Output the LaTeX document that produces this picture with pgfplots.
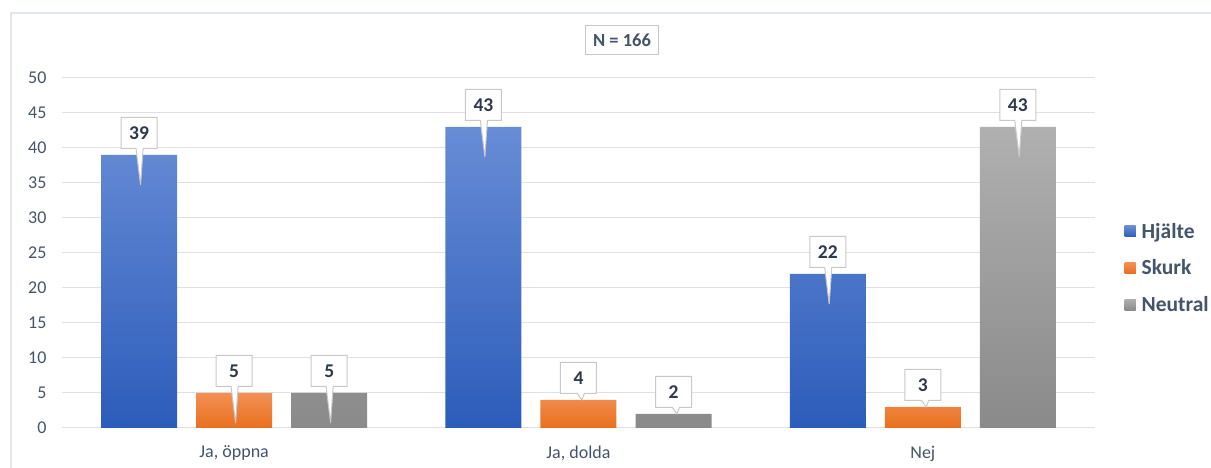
\documentclass[border=0pt]{standalone}
\usepackage{fontspec}
\setmainfont{Carlito}
\usepackage{pgfplots}
\pgfplotsset{compat=1.18}
\usetikzlibrary{shapes.callouts}
\definecolor{txt}{HTML}{44546A}
\definecolor{numc}{HTML}{2E3A4B}
\definecolor{gridc}{HTML}{DDE1E6}
\definecolor{bordc}{HTML}{E3E6EC}
\definecolor{callc}{HTML}{C8C8C8}
\definecolor{bluetop}{RGB}{104,140,214}
\definecolor{bluebot}{RGB}{44,92,186}
\definecolor{orgtop}{RGB}{243,144,84}
\definecolor{orgbot}{RGB}{232,112,30}
\definecolor{graytop}{RGB}{176,176,176}
\definecolor{graybot}{RGB}{138,138,138}
\definecolor{blueleg}{HTML}{4472C4}
\definecolor{orgleg}{HTML}{ED7D31}
\definecolor{grayleg}{HTML}{A5A5A5}
\begin{document}
\begin{tikzpicture}[x=1bp,y=1bp]
\useasboundingbox (0,0) rectangle (1211,468);
\draw[color=bordc, line width=1.5bp] (11,-10) -- (11,455) -- (1230,455);
\begin{axis}[
  at={(62bp,40bp)}, anchor=south west,
  scale only axis, width=1033bp, height=350bp,
  xmin=-0.5, xmax=2.5, ymin=0, ymax=50,
  ybar, clip=false,
  xtick={0,1,2}, xticklabels={{Ja, öppna},{Ja, dolda},{Nej}},
  ytick={0,5,...,50},
  axis line style={draw=none},
  tick style={draw=none},
  ymajorgrids, grid style={color=gridc, line width=1bp},
  /pgf/number format/assume math mode=true,
  yticklabel style={font=\fontsize{18bp}{21bp}\selectfont, text=txt, anchor=east, xshift=-12bp},
  xticklabel style={font=\fontsize{18bp}{21bp}\selectfont, text=txt, yshift=-10bp},
  legend style={at={(1.0285,0.457)}, anchor=west, draw=none, fill=none,
    font=\fontsize{21.5bp}{24bp}\selectfont\bfseries, text=txt,
    row sep=16bp, inner sep=0pt},
  legend cell align=left,
  visualization depends on={y \as \rawy},
  nodes near coords,
  every node near coord/.append style={rectangle callout, draw=callc, fill=white,
    line width=1bp, font=\fontsize{19.5bp}{22bp}\selectfont\bfseries, text=numc,
    anchor=south, yshift=6bp, minimum width=36bp, minimum height=31bp, inner sep=2bp,
    callout relative pointer={(1bp,{-6.5bp-30bp*(\rawy>4.5)})}},
]
\addplot[bar width=0.2207, bar shift=-0.276, draw=none, top color=bluetop, bottom color=bluebot,
  legend image code/.code={\fill[blueleg] (0bp,-5.5bp) rectangle (11bp,5.5bp); \path (15bp,0);}]
  coordinates {(0,39) (1,43) (2,22)};
\addlegendentry{Hjälte}
\addplot[bar width=0.2207, bar shift=0, draw=none, top color=orgtop, bottom color=orgbot,
  legend image code/.code={\fill[orgleg] (0bp,-5.5bp) rectangle (11bp,5.5bp); \path (15bp,0);}]
  coordinates {(0,5) (1,4) (2,3)};
\addlegendentry{Skurk}
\addplot[bar width=0.2207, bar shift=0.276, draw=none, top color=graytop, bottom color=graybot,
  legend image code/.code={\fill[grayleg] (0bp,-5.5bp) rectangle (11bp,5.5bp); \path (15bp,0);}]
  coordinates {(0,5) (1,2) (2,43)};
\addlegendentry{Neutral}
\end{axis}
\node[draw=callc, line width=1bp, fill=white, text=txt, font=\fontsize{18.5bp}{22bp}\selectfont\bfseries,
  minimum width=73bp, minimum height=29bp, inner sep=2bp] at (622,428) {N = 166};
\end{tikzpicture}
\end{document}
